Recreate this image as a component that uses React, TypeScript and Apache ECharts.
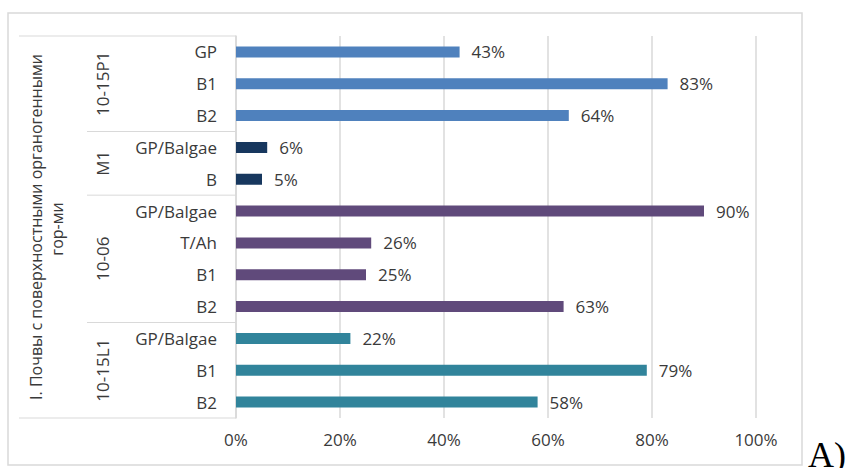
import React, { useEffect, useRef } from "react";
import * as echarts from "echarts";

const groups = ["10-15P1", "M1", "10-06", "10-15L1"];
const groupSizes = [3, 2, 4, 3];
const groupColors = ["#4F81BD", "#17375E", "#604A7B", "#31849B"];
const horizons = ["GP", "B1", "B2", "GP/Balgae", "B", "GP/Balgae", "T/Ah", "B1", "B2", "GP/Balgae", "B1", "B2"];
const values = [43, 83, 64, 6, 5, 90, 26, 25, 63, 22, 79, 58];
const xTicks = [0, 20, 40, 60, 80, 100];
const outerTitle = ["I. Почвы с поверхностными органогенными", "гор-ми"];
const panelLabel = "A)";

const FONT = "'Open Sans', sans-serif";
const TXT = "#3A3A3A";
const LINE = "#D9D9D9";
const FS = 17;

export default function App() {
  const ref = useRef<HTMLDivElement>(null);
  useEffect(() => {
    if (!ref.current) return;
    const chart = echarts.init(ref.current, undefined, { renderer: "svg" });
    const gridLeft = 236, gridTop = 36, gridRight = 94, gridBottom = 50;
    const gridH = 468 - gridTop - gridBottom;
    const rowH = gridH / horizons.length;

    const colors: string[] = [];
    groupSizes.forEach((n, gi) => { for (let i = 0; i < n; i++) colors.push(groupColors[gi]); });

    const graphics: any[] = [];
    graphics.push({
      type: "rect", shape: { x: 8, y: 13, width: 794, height: 452 },
      style: { fill: "none", stroke: LINE, lineWidth: 1.5 }, silent: true,
    });
    graphics.push({ type: "line", shape: { x1: 19, y1: gridTop, x2: gridLeft, y2: gridTop }, style: { stroke: LINE, lineWidth: 1 } });
    graphics.push({ type: "line", shape: { x1: 19, y1: gridTop + gridH, x2: gridLeft, y2: gridTop + gridH }, style: { stroke: LINE, lineWidth: 1 } });
    let start = 0;
    groupSizes.forEach((n, gi) => {
      const y0 = gridTop + start * rowH;
      const y1 = gridTop + (start + n) * rowH;
      if (gi > 0) {
        graphics.push({ type: "line", shape: { x1: 87, y1: y0, x2: gridLeft, y2: y0 }, style: { stroke: LINE, lineWidth: 1 } });
      }
      graphics.push({
        type: "text", x: 102, y: (y0 + y1) / 2, rotation: Math.PI / 2,
        style: { text: groups[gi], align: "center", verticalAlign: "middle", fill: TXT, font: `${FS}px ${FONT}` },
      });
      start += n;
    });
    const midY = gridTop + gridH / 2;
    graphics.push({
      type: "text", x: 36, y: midY, rotation: Math.PI / 2,
      style: { text: outerTitle[0], align: "center", verticalAlign: "middle", fill: TXT, font: `16px ${FONT}` },
    });
    graphics.push({
      type: "text", x: 57, y: midY + 2, rotation: Math.PI / 2,
      style: { text: outerTitle[1], align: "center", verticalAlign: "middle", fill: TXT, font: `16px ${FONT}` },
    });
    graphics.push({
      type: "text", x: 808, y: 473,
      style: { text: panelLabel, align: "left", verticalAlign: "bottom", fill: "#000", font: `36px 'Liberation Serif', serif` },
    });

    chart.setOption({
      animation: false,
      backgroundColor: "#fff",
      grid: { left: gridLeft, right: gridRight, top: gridTop, bottom: gridBottom, containLabel: false },
      xAxis: {
        type: "value", min: xTicks[0], max: xTicks[xTicks.length - 1], interval: xTicks[1] - xTicks[0],
        axisLine: { show: false }, axisTick: { show: false },
        axisLabel: { formatter: "{value}%", color: TXT, fontSize: FS, fontFamily: FONT, margin: 13 },
        splitLine: { lineStyle: { color: LINE, width: 1.5 } },
      },
      yAxis: {
        type: "category", inverse: true,
        data: horizons.map((h, i) => `${i}|${h}`),
        axisLine: { lineStyle: { color: LINE, width: 1.5 } },
        axisTick: { show: false },
        axisLabel: {
          formatter: (v: string) => v.split("|")[1], color: TXT, fontSize: FS, fontFamily: FONT, margin: 19,
        },
      },
      series: [{
        type: "bar", barWidth: 11,
        data: values.map((v, i) => ({ value: v, itemStyle: { color: colors[i] } })),
        label: { show: true, position: "right", distance: 12, formatter: "{c}%", color: TXT, fontSize: FS, fontFamily: FONT },
      }],
      graphic: graphics,
    });
    return () => chart.dispose();
  }, []);
  return <div ref={ref} style={{ position: "fixed", left: 0, top: 0, width: 850, height: 468 }} />;
}
